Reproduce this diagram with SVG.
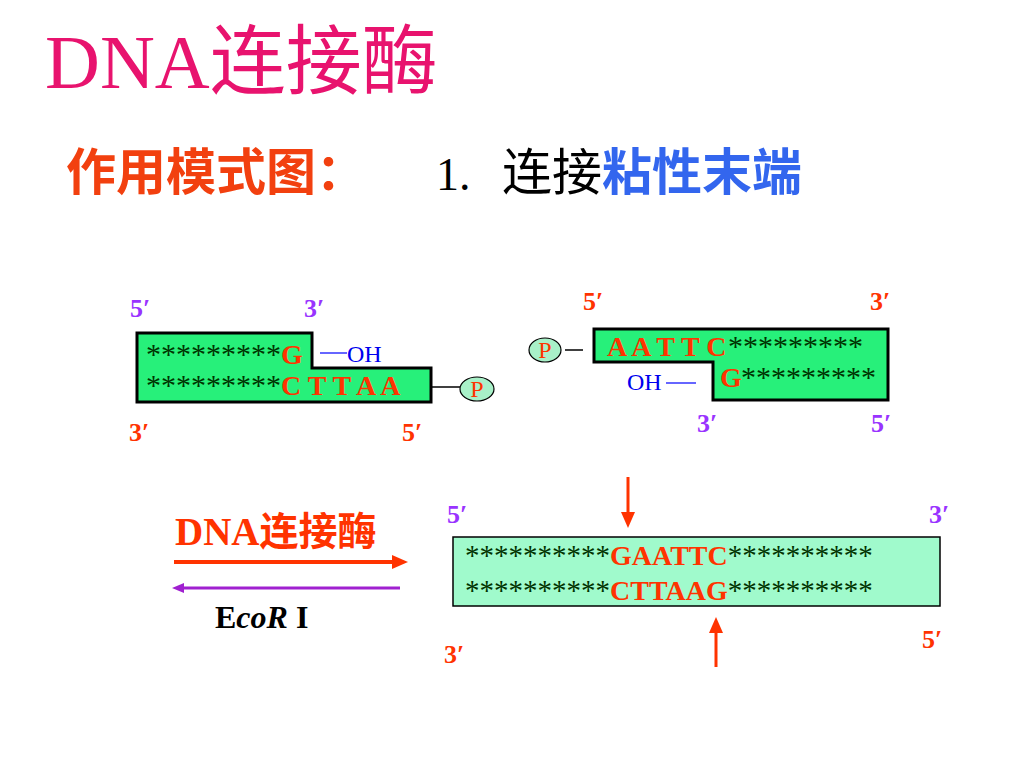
<svg xmlns="http://www.w3.org/2000/svg" width="1024" height="768" viewBox="0 0 1024 768">
<style>
.serif{font-family:"Liberation Serif","Noto Sans CJK SC",serif}
.sans{font-family:"Noto Sans CJK SC","Liberation Sans",sans-serif}
.end{font-family:"Liberation Serif","DejaVu Serif",serif;font-size:26px;font-weight:bold}
.pu{fill:#9933FF}
.rd{fill:#FF3300}
.seq{font-family:"Liberation Serif",serif;font-size:28px;fill:#003300}
.ast{font-size:30px}
.ast2{font-size:29px}
.base{fill:#FF3300;font-weight:bold;font-size:28px}
.oh{font-family:"Liberation Serif",serif;font-size:24px;fill:#0000EE}
.frag{fill:#27F07A;stroke:#000;stroke-width:3}
.pc{fill:#A8F0C8;stroke:#000;stroke-width:1.2}
.pt{font-family:"Liberation Serif",serif;font-size:24px;fill:#FF3300;text-anchor:middle}
</style>
<defs>
<marker id="hr" markerUnits="userSpaceOnUse" markerWidth="16" markerHeight="14" refX="5" refY="7" orient="auto"><path d="M0,0 L16,7 L0,14 z" fill="#FF3300"/></marker>
<marker id="hp" markerUnits="userSpaceOnUse" markerWidth="12" markerHeight="10" refX="4" refY="5" orient="auto"><path d="M0,0 L12,5 L0,10 z" fill="#A020D0"/></marker>
</defs>
<rect width="1024" height="768" fill="#fff"/>
<g id="title"><text class="serif" x="45" y="88" font-size="76" fill="#E8136E">DNA连接酶</text></g>
<g id="subtitle">
<text class="sans" x="66" y="190" font-size="50" font-weight="bold" fill="#F2400F">作用模式图：</text>
<text class="serif" x="436" y="190" font-size="46" fill="#000">1.</text>
<text class="sans" x="502" y="190" font-size="50" fill="#000">连接<tspan font-weight="bold" fill="#3366EE">粘性末端</tspan></text>
</g>
<g id="fragment-left">
<polygon class="frag" points="137,333 312,333 312,368 431,368 431,402 137,402"/>
<text class="seq ast" x="146" y="364">*********</text>
<text class="seq base" x="281" y="364">G</text>
<text class="seq ast" x="146" y="395">*********</text>
<text class="seq base" x="281" y="395" xml:space="preserve">C T T A A</text>
<line x1="320" y1="353" x2="347" y2="353" stroke="#6666FF" stroke-width="2"/>
<text class="oh" x="347" y="362">OH</text>
<line x1="432" y1="387" x2="460" y2="387" stroke="#000" stroke-width="1.5"/>
<ellipse class="pc" cx="477" cy="389" rx="17" ry="12"/>
<text class="pt" x="477" y="397">P</text>
<text class="end pu" x="130" y="317">5′</text>
<text class="end pu" x="304" y="317">3′</text>
<text class="end rd" x="129" y="441">3′</text>
<text class="end rd" x="402" y="441">5′</text>
</g>
<g id="fragment-right">
<polygon class="frag" points="594,329 888,329 888,400 713,400 713,362 594,362"/>
<ellipse class="pc" cx="545" cy="350" rx="16" ry="12"/>
<text class="pt" x="545" y="358">P</text>
<line x1="565" y1="350" x2="583" y2="350" stroke="#000" stroke-width="1.5"/>
<text class="seq base" x="607" y="356" xml:space="preserve">A A T T C</text>
<text class="seq ast" x="728" y="356">*********</text>
<text class="seq base" x="720" y="387">G</text>
<text class="seq ast" x="741" y="387">*********</text>
<text class="oh" x="627" y="390">OH</text>
<line x1="666" y1="383" x2="696" y2="383" stroke="#6666FF" stroke-width="2"/>
<text class="end rd" x="583" y="310">5′</text>
<text class="end rd" x="870" y="310">3′</text>
<text class="end pu" x="697" y="432">3′</text>
<text class="end pu" x="871" y="432">5′</text>
</g>
<g id="enzymes">
<text class="serif" x="175" y="545" font-size="39" font-weight="bold" fill="#FF3300">DNA连接酶</text>
<text class="serif" x="215" y="628" font-size="32" font-weight="bold" fill="#000">E<tspan font-style="italic">coR</tspan> I</text>
</g>
<g id="product">
<rect x="453" y="537" width="487" height="69" fill="#A0FACC" stroke="#000" stroke-width="1.5"/>
<text class="seq ast2" x="465" y="565">**********<tspan class="base">GAATTC</tspan>**********</text>
<text class="seq ast2" x="465" y="600">**********<tspan class="base">CTTAAG</tspan>**********</text>
<text class="end pu" x="447" y="523">5′</text>
<text class="end pu" x="929" y="523">3′</text>
<text class="end rd" x="444" y="663">3′</text>
<text class="end rd" x="922" y="648">5′</text>
</g>
<g id="connectors">
<line x1="174" y1="562" x2="397" y2="562" stroke="#FF3300" stroke-width="4" marker-end="url(#hr)"/>
<line x1="400" y1="588" x2="180" y2="588" stroke="#A020D0" stroke-width="3" marker-end="url(#hp)"/>
<line x1="628" y1="477" x2="628" y2="517" stroke="#FF3300" stroke-width="3" marker-end="url(#hr)"/>
<line x1="716" y1="667" x2="716" y2="628" stroke="#FF3300" stroke-width="3" marker-end="url(#hr)"/>
</g>
</svg>
